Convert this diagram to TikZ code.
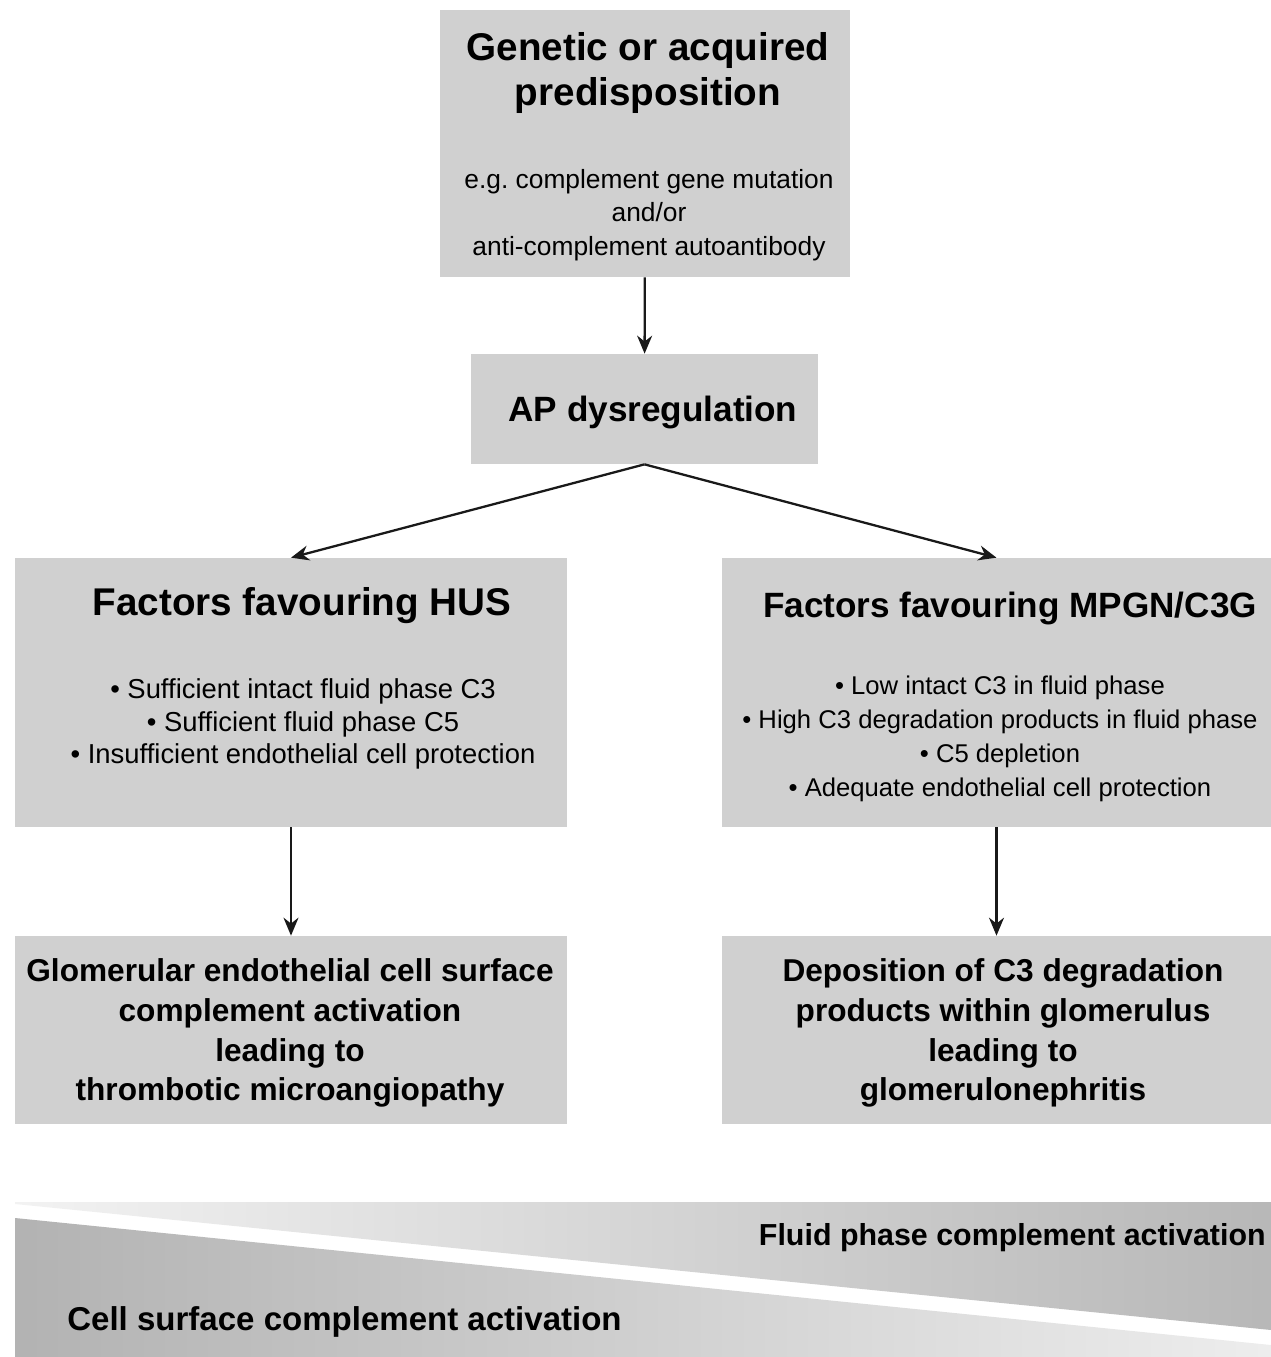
\documentclass[tikz,border=0pt]{standalone}
\usepackage{fontspec}
\setmainfont{Liberation Sans}
\usetikzlibrary{arrows.meta,positioning}
\definecolor{boxgray}{RGB}{208,208,208}
\frenchspacing
\tikzset{
  >=Stealth,
  box/.style    ={fill=boxgray, inner sep=0pt},
  arr/.style    ={-{Stealth[length=3.6mm,width=3mm]}, line width=1.3pt, black!90},
  head/.style   ={font=\fontsize{22}{26}\selectfont\bfseries, align=center, inner sep=0pt},
  sub/.style    ={font=\fontsize{15}{19}\selectfont, align=center, inner sep=0pt},
  result/.style ={font=\fontsize{18}{22.7}\selectfont\bfseries, align=center, inner sep=0pt},
  band/.style   ={font=\fontsize{18.8}{22}\selectfont\bfseries, inner sep=0pt},
}
\begin{document}
\begin{tikzpicture}[x=0.02cm,y=-0.02cm]
  \useasboundingbox (0,0) rectangle (1271,1357);

  % boxes
  \node[box, minimum width=8.2cm,  minimum height=5.34cm] (pre)  at (645,143.5) {};
  \node[box, minimum width=6.94cm, minimum height=2.2cm]  (ap)   at (644.5,409) {};
  \node[box, minimum width=11.04cm,minimum height=5.38cm] (hus)  at (291,692.5) {};
  \node[box, minimum width=10.98cm,minimum height=5.38cm] (mpgn) at (996.5,692.5) {};
  \node[box, minimum width=11.04cm,minimum height=3.76cm] (tma)  at (291,1030) {};
  \node[box, minimum width=10.98cm,minimum height=3.76cm] (gn)   at (996.5,1030) {};

  % texts
  \node[head] (preh) at (648,73) {Genetic or acquired\\predisposition};
  \node[sub]  (pres) at (649,215) {e.g. complement gene mutation\\and/or\\anti-complement autoantibody};
  \node[head, font=\fontsize{20}{24}\selectfont\bfseries] (aph) at (653,412) {AP dysregulation};
  \node[head] (hush) at (302,606) {Factors favouring HUS};
  \node[sub, font=\fontsize{15.6}{18.7}\selectfont] (huss) at (303,724)
    {\textbullet{} Sufficient intact fluid phase C3\\
     \textbullet{} Sufficient fluid phase C5\\
     \textbullet{} Insufficient endothelial cell protection};
  \node[head, font=\fontsize{20}{24}\selectfont\bfseries] (mpgnh) at (1010,608) {Factors favouring MPGN/C3G};
  \node[sub, font=\fontsize{14.6}{19.3}\selectfont] (mpgns) at (1000,739)
    {\textbullet{} Low intact C3 in fluid phase\\
     \textbullet{} High C3 degradation products in fluid phase\\
     \textbullet{} C5 depletion\\
     \textbullet{} Adequate endothelial cell protection};
  \node[result] (tmat) at (290,1033) {Glomerular endothelial cell surface\\complement activation\\leading to\\thrombotic microangiopathy};
  \node[result] (gnt) at (1003,1033) {Deposition of C3 degradation\\products within glomerulus\\leading to\\glomerulonephritis};

  % arrows
  \draw[arr] (pre) -- (ap);
  \draw[arr] (ap.south) -- (hus.north);
  \draw[arr] (ap.south) -- (mpgn.north);
  \draw[arr] (hus) -- (tma);
  \draw[arr] (mpgn) -- (gn);

  % gradient band
  \shade[left color=black!5, right color=black!28]
    (15,1202) -- (1271,1202) -- (1271,1330) -- (15,1204) -- cycle;
  \shade[left color=black!30, right color=black!7]
    (15,1218) -- (1271,1345) -- (1271,1357) -- (15,1357) -- cycle;
  \node[band, font=\fontsize{17.3}{21}\selectfont\bfseries, anchor=east] (fluid) at (1266,1238) {Fluid phase complement activation};
  \node[band, anchor=west] (cell) at (67,1322) {Cell surface complement activation};
\end{tikzpicture}
\end{document}
